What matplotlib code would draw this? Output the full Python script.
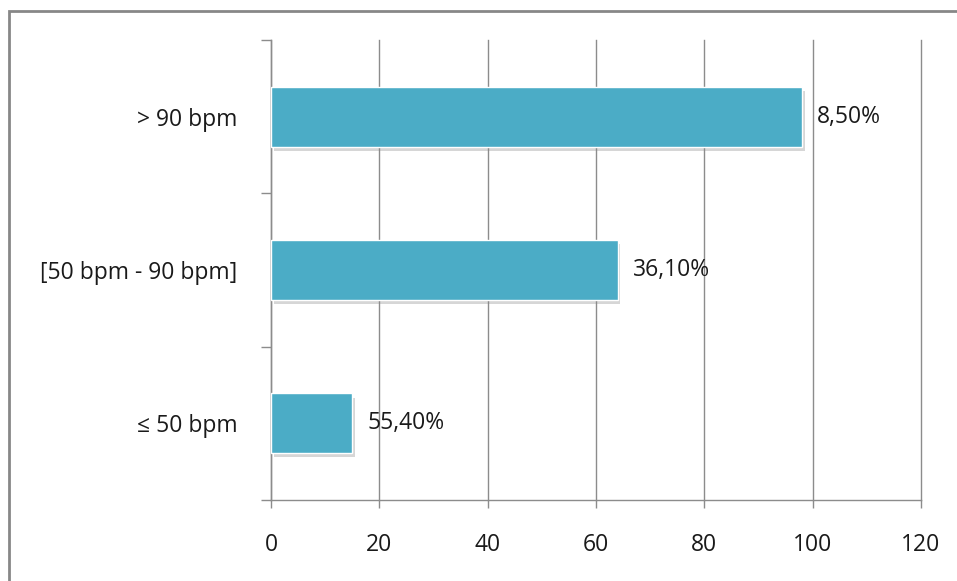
import matplotlib
matplotlib.use("Agg")
import matplotlib.pyplot as plt
import matplotlib.patheffects as pe
from matplotlib.patches import Rectangle

plt.rcParams['font.family'] = ['Open Sans', 'DejaVu Sans']

categories = ["\u2264 50 bpm", "[50 bpm - 90 bpm]", "> 90 bpm"]
values = [15, 64, 98]
value_labels = ["55,40%", "36,10%", "8,50%"]
x_ticks = [0, 20, 40, 60, 80, 100, 120]

BAR_COLOR = "#4BACC6"
GRID_COLOR = "#8C8C8C"
TEXT_COLOR = "#1A1A1A"
FS = 16.5


def main():
    fig = plt.figure(figsize=(9.57, 5.81), dpi=100)
    ax = fig.add_axes([271 / 957, 1 - 500 / 581, 650 / 957, 460 / 581])

    # outer frame of the chart area
    fig.patches.append(Rectangle((9 / 957, -0.1), 1.2, 1 - 11 / 581 + 0.1,
                                 transform=fig.transFigure, fill=False,
                                 edgecolor="#878787", linewidth=2))

    pos = range(len(categories))
    bars = ax.barh(pos, values, height=0.39, color=BAR_COLOR,
                   edgecolor="white", linewidth=1, zorder=3)
    for b in bars:
        b.set_path_effects([pe.SimplePatchShadow(offset=(2, -3), shadow_rgbFace="#8a8a8a", alpha=0.35),
                            pe.Normal()])

    for p, v, lab in zip(pos, values, value_labels):
        ax.annotate(lab, (v, p), xytext=(11, 0), textcoords="offset points",
                    va="center", ha="left", fontsize=FS, color=TEXT_COLOR, zorder=4)

    ax.set_xlim(0, 120)
    ax.set_ylim(-0.5, len(categories) - 0.5)
    ax.set_xticks(x_ticks)
    ax.set_xticklabels([str(t) for t in x_ticks])
    ax.set_yticks(pos)
    ax.set_yticklabels(categories)

    # boundary ticks between categories on the y axis
    ax.set_yticks([-0.5, 0.5, 1.5, 2.5], minor=True)
    ax.tick_params(axis="y", which="major", length=0, pad=24, labelsize=FS, labelcolor=TEXT_COLOR)
    ax.tick_params(axis="y", which="minor", length=7, width=1, color=GRID_COLOR, direction="out")
    ax.tick_params(axis="x", which="major", length=6, width=1, color=GRID_COLOR,
                   pad=18, labelsize=FS, labelcolor=TEXT_COLOR)

    ax.grid(axis="x", color=GRID_COLOR, linewidth=1, zorder=0)
    for line in ax.get_xgridlines():
        line.set_clip_on(False)
    ax.set_axisbelow(True)
    for s in ["top", "right"]:
        ax.spines[s].set_visible(False)
    for s in ["left", "bottom"]:
        ax.spines[s].set_color(GRID_COLOR)
        ax.spines[s].set_linewidth(1)

    fig.savefig("out.png", dpi=100)


if __name__ == '__main__':
    main()
